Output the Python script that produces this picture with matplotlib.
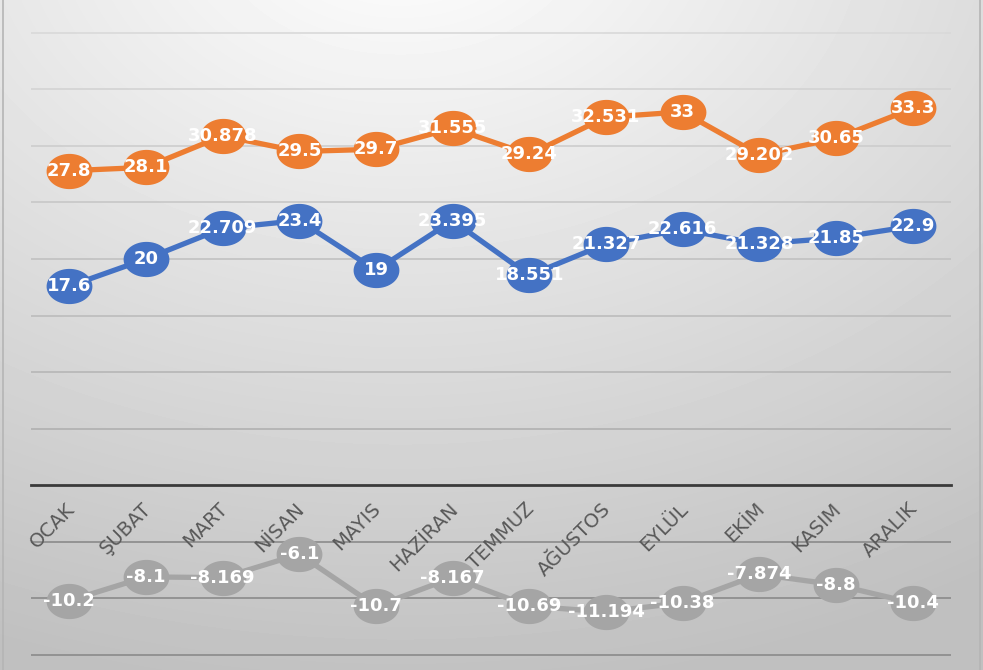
import numpy as np
import matplotlib
matplotlib.use("Agg")
import matplotlib.pyplot as plt
from matplotlib.path import Path

### Data

months = ["OCAK", "ŞUBAT", "MART", "NİSAN", "MAYIS", "HAZİRAN",
          "TEMMUZ", "AĞUSTOS", "EYLÜL", "EKİM", "KASIM", "ARALIK"]
max_temp = [27.8, 28.1, 30.878, 29.5, 29.7, 31.555, 29.24, 32.531, 33, 29.202, 30.65, 33.3]
max_labels = ["27.8", "28.1", "30.878", "29.5", "29.7", "31.555", "29.24", "32.531", "33", "29.202", "30.65", "33.3"]
avg_temp = [17.6, 20, 22.709, 23.4, 19, 23.395, 18.551, 21.327, 22.616, 21.328, 21.85, 22.9]
avg_labels = ["17.6", "20", "22.709", "23.4", "19", "23.395", "18.551", "21.327", "22.616", "21.328", "21.85", "22.9"]
min_temp = [-10.2, -8.1, -8.169, -6.1, -10.7, -8.167, -10.69, -11.194, -10.38, -7.874, -8.8, -10.4]
min_labels = ["-10.2", "-8.1", "-8.169", "-6.1", "-10.7", "-8.167", "-10.69", "-11.194", "-10.38", "-7.874", "-8.8", "-10.4"]
y_ticks = [-15, -10, -5, 0, 5, 10, 15, 20, 25, 30, 35, 40]

### Figure and gradient background

fig = plt.figure(figsize=(9.83, 6.70), dpi=100)

bg = fig.add_axes([0, 0, 1, 1], zorder=-10)
yy, xx = np.mgrid[0:670, 0:983]
d = np.sqrt(((xx - 400) / 1100.0) ** 2 + ((yy + 80) / 780.0) ** 2)
shade = np.clip(1.0 - 0.25 * d, 0.75, 1.0)
bg.imshow(shade, cmap="gray", vmin=0, vmax=1, aspect="auto", extent=(0, 983, 670, 0))
bg.set_xlim(0, 983)
bg.set_ylim(670, 0)
bg.axvline(3, color="#b5b5b5", lw=1.2)
bg.axvline(980, color="#b5b5b5", lw=1.2)
bg.axis("off")

### Chart axes

ax = fig.add_axes([31 / 983, 0, 920 / 983, 1])
ax.patch.set_alpha(0)
ax.set_xlim(-0.5, 11.5)
ax.set_ylim(-16.33, 42.89)

ax.set_yticks(y_ticks)
ax.set_xticks([])
ax.tick_params(axis="y", length=0, labelleft=False)
ax.grid(axis="y", lw=1.2)
for tick, gl in zip(y_ticks, ax.yaxis.get_gridlines()):
    if tick < 0:
        gl.set_color("#8a8a8a")
    elif tick == 0:
        gl.set_visible(False)
    else:
        g = 0.69 + (0.85 - 0.69) * (tick - 5) / 35.0
        gl.set_color((g, g, g))
ax.set_axisbelow(True)

for s in ["top", "left", "right"]:
    ax.spines[s].set_visible(False)
ax.spines["bottom"].set_position(("data", 0))
ax.spines["bottom"].set_color("#3a3a3a")
ax.spines["bottom"].set_linewidth(2.0)
ax.spines["bottom"].set_zorder(2)

# ellipse shaped marker (wider than tall)
t = np.linspace(0, 2 * np.pi, 60)
ellipse = Path(np.column_stack([1.3 * np.cos(t), np.sin(t)]), closed=True)

x = np.arange(len(months))
series = [
    (max_temp, max_labels, "#ED7D31"),
    (avg_temp, avg_labels, "#4472C4"),
    (min_temp, min_labels, "#A5A5A5"),
]
for values, labels, color in series:
    ax.plot(x, values, color=color, lw=3.8, marker=ellipse, markersize=33,
            mec="none", mfc=color, zorder=3, clip_on=False)
    for xi, v, lab in zip(x, values, labels):
        ax.text(xi, v, lab, color="white", fontsize=13, fontweight="bold",
                ha="center", va="center", zorder=5, family="DejaVu Sans")

# month labels along the zero line
for xi, m in zip(x, months):
    ax.annotate(m, (xi, 0), xytext=(1.5, -15), textcoords="offset points",
                rotation=45, rotation_mode="anchor", ha="right", va="center",
                fontsize=14, color="#595959", zorder=4)

fig.savefig("out.png", dpi=100)
plt.close(fig)
